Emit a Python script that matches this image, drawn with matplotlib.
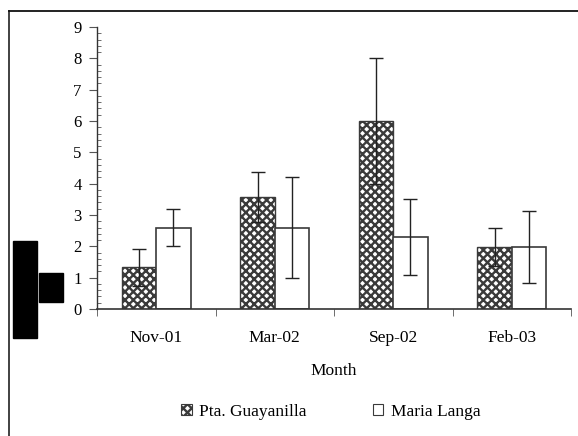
import numpy as np
import matplotlib.pyplot as plt
from matplotlib.patches import Rectangle, Patch
from matplotlib.lines import Line2D

plt.rcParams['font.family'] = ['Liberation Serif', 'DejaVu Serif']
plt.rcParams['hatch.linewidth'] = 1.7

months = ['Nov-01', 'Mar-02', 'Sep-02', 'Feb-03']
guayanilla = [1.33, 3.57, 6.0, 1.98]
guayanilla_err = [0.6, 0.8, 2.0, 0.62]
langa = [2.6, 2.6, 2.3, 1.98]
langa_err = [0.6, 1.6, 1.2, 1.15]

W, H = 578, 436
fig = plt.figure(figsize=(W / 100, H / 100), dpi=100)
ax = fig.add_axes([97 / W, 1 - 309 / H, (571 - 97) / W, (309 - 27) / H])

x = np.arange(len(months))
bw = 0.29
ax.bar(x - bw / 2, guayanilla, bw, color='white', edgecolor='#3a3a3a',
       hatch='xxxx', linewidth=1.0)
ax.bar(x + bw / 2, langa, bw, color='white', edgecolor='#3a3a3a', linewidth=1.2)
ax.errorbar(x - bw / 2, guayanilla, yerr=guayanilla_err, fmt='none',
            ecolor='#222222', elinewidth=1.0, capsize=4.7, capthick=1.0)
ax.errorbar(x + bw / 2, langa, yerr=langa_err, fmt='none',
            ecolor='#222222', elinewidth=1.0, capsize=4.7, capthick=1.0)

ax.set_xlim(-0.5, 3.5)
ax.set_ylim(0, 9)
ax.set_yticks(range(10))
ax.set_yticks(np.arange(0, 9.01, 0.2), minor=True)
ax.set_xticks(x)
ax.set_xticklabels(months)
ax.set_xticks(np.arange(-0.5, 3.6, 1), minor=True)
ax.tick_params(axis='x', which='major', length=0, labelsize=12.5, pad=15)
ax.tick_params(axis='x', which='minor', length=5, direction='out', color='#555555')
ax.tick_params(axis='y', which='major', length=6, direction='out', labelsize=12,
               pad=5, color='#555555')
ax.tick_params(axis='y', which='minor', length=3, direction='in', color='#555555')
for s in ['top', 'right']:
    ax.spines[s].set_visible(False)
for s in ['left', 'bottom']:
    ax.spines[s].set_color('#333333')
ax.spines['left'].set_linewidth(1.0)
ax.spines['bottom'].set_linewidth(1.2)
ax.set_xlabel('Month', fontsize=12.5, labelpad=12)

handles = [Patch(facecolor='white', edgecolor='#3a3a3a', hatch='xxxx', linewidth=0.8),
           Patch(facecolor='white', edgecolor='#3a3a3a', linewidth=0.8)]
fig.legend(handles, ['Pta. Guayanilla', 'Maria Langa'], loc='center',
           bbox_to_anchor=(331 / W, 1 - 412 / H), ncol=2, frameon=False,
           fontsize=12.5, handlelength=0.6, handleheight=0.6, handletextpad=0.45,
           columnspacing=3.8)

# outer frame (left and top edges visible)
fig.add_artist(Line2D([8.5 / W, 8.5 / W], [0, 1 - 11 / H], transform=fig.transFigure,
                      color='#333333', linewidth=1.3))
fig.add_artist(Line2D([8.5 / W, 1], [1 - 11 / H, 1 - 11 / H], transform=fig.transFigure,
                      color='#111111', linewidth=1.3))
# black blocks at the left
fig.add_artist(Rectangle((13 / W, 1 - 338 / H), 24 / W, 97 / H,
                         transform=fig.transFigure, color='black'))
fig.add_artist(Rectangle((39 / W, 1 - 302 / H), 24 / W, 29 / H,
                         transform=fig.transFigure, color='black'))

fig.savefig('out.png', dpi=100)
